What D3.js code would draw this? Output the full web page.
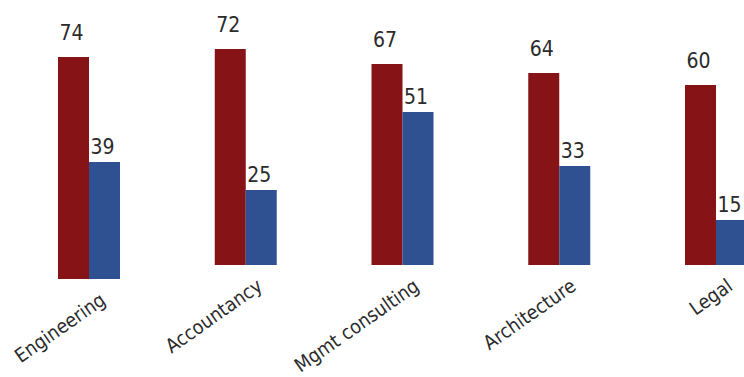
<!DOCTYPE html>
<html>
<head>
<meta charset="utf-8">
<script src="https://cdn.jsdelivr.net/npm/d3@7"></script>
<style>
  html, body { margin: 0; padding: 0; background: #fff; }
  svg { display: block; }
  text { font-family: "DejaVu Sans Condensed", "DejaVu Sans", sans-serif; fill: #2b2b2b; }
</style>
</head>
<body>
<svg id="chart" width="744" height="377"></svg>
<script>
// Professions and the two series shown for each
const categories = ["Engineering", "Accountancy", "Mgmt consulting", "Architecture", "Legal"];
const seriesKeys = ["first", "second"];
const firstValues = [74, 72, 67, 64, 60];
const secondValues = [39, 25, 51, 33, 15];
const seriesColors = ["#861417", "#2f5091"];

const rows = categories.map((c, i) => ({ category: c, values: [firstValues[i], secondValues[i]] }));

const svg = d3.select("#chart");
const baseY = 265;

const x0 = d3.scaleBand().domain(categories).range([58, 747]).paddingInner(0.6045).paddingOuter(0);
const x1 = d3.scaleBand().domain(seriesKeys).range([0, x0.bandwidth()]).padding(0);
const y = d3.scaleLinear().domain([0, 80]).range([baseY, baseY - 240]);

// the first group sits a little lower than the rest
const drop = c => (c === "Engineering" ? 14 : 0);

const groups = svg.selectAll("g.group")
  .data(rows)
  .join("g")
  .attr("class", "group")
  .attr("transform", d => `translate(${x0(d.category)},${drop(d.category)})`);

const bars = groups.selectAll("g.bar")
  .data(d => d.values.map((v, k) => ({ key: seriesKeys[k], value: v, k })))
  .join("g")
  .attr("class", "bar");

bars.append("rect")
  .attr("x", d => x1(d.key))
  .attr("y", d => y(d.value))
  .attr("width", x1.bandwidth())
  .attr("height", d => y(0) - y(d.value))
  .attr("fill", d => seriesColors[d.k]);

bars.append("text")
  .attr("x", d => x1(d.key) + x1.bandwidth() / 2 - 2)
  .attr("y", d => y(d.value) - (d.k === 0 ? 17 : 8))
  .attr("text-anchor", "middle")
  .style("font-size", "21px")
  .text(d => d.value);

// rotated category labels under each pair of bars
svg.selectAll("text.cat")
  .data(categories)
  .join("text")
  .attr("class", "cat")
  .attr("text-anchor", "end")
  .style("font-size", "19.5px")
  .attr("transform", c => `translate(${x0(c) + x0.bandwidth() / 2 + 18},${baseY + drop(c) + 24}) rotate(-35)`)
  .text(c => c);
</script>
</body>
</html>
